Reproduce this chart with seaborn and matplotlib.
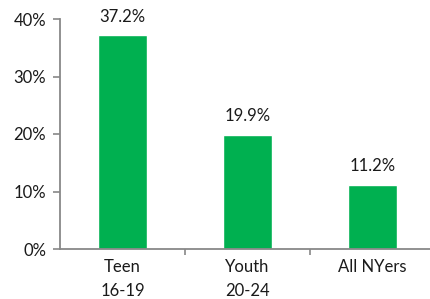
import numpy as np
import pandas as pd
import matplotlib
matplotlib.use("Agg")
import matplotlib.pyplot as plt
import seaborn as sns
from matplotlib.ticker import FuncFormatter

# data
categories = ["Teen\n16-19", "Youth\n20-24", "All NYers"]
rates = [37.2, 19.9, 11.2]

df = pd.DataFrame({"group": categories, "rate": rates})

sns.set_style("white")
plt.rcParams["font.family"] = ["Lato", "DejaVu Sans"]

fig = plt.figure(figsize=(4.3, 2.99), dpi=100)
ax = fig.add_axes([60 / 430, 50 / 299, 375 / 430, 230 / 299])

sns.barplot(data=df, x="group", y="rate", color="#00B050", width=0.39,
            saturation=1, ax=ax)

for i, v in enumerate(rates):
    ax.text(i, v + 1.8, f"{v:.1f}%", ha="center", va="bottom",
            fontsize=12, color="#1a1a1a")

ax.set_ylim(0, 40)
ax.set_xlim(-0.5, 2.5)
ax.set_yticks([0, 10, 20, 30, 40])
ax.yaxis.set_major_formatter(FuncFormatter(lambda v, p: f"{v:.0f}%"))
ax.set_xlabel("")
ax.set_ylabel("")

ax.set_xticks([0.5, 1.5], minor=True)
ax.tick_params(axis="x", which="major", length=0, pad=7, labelsize=12,
               labelcolor="#1a1a1a")
for lbl in ax.get_xticklabels():
    lbl.set_linespacing(1.6)
ax.tick_params(axis="x", which="minor", length=4, width=1.2, color="#888888",
               direction="out", bottom=True)
ax.tick_params(axis="y", length=5, width=1.2, color="#888888", direction="out",
               left=True, pad=5, labelsize=12, labelcolor="#1a1a1a")

sns.despine(ax=ax, top=True, right=True)
for s in ["left", "bottom"]:
    ax.spines[s].set_color("#888888")
    ax.spines[s].set_linewidth(1.3)

fig.savefig("out.png", dpi=100)
